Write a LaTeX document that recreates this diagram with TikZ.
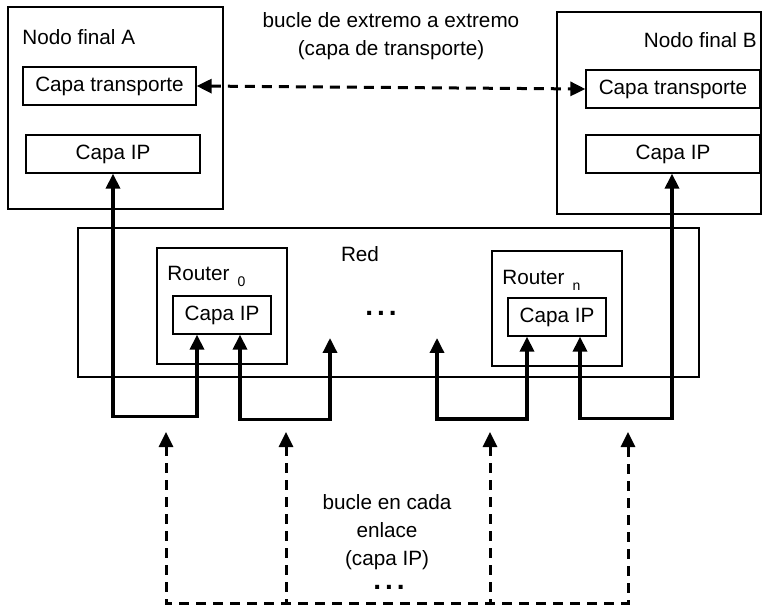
\documentclass[tikz,border=0pt]{standalone}
\usepackage{fontspec}
\setmainfont{Liberation Sans}
\usetikzlibrary{arrows.meta}
\begin{document}
\begin{tikzpicture}[x=0.5pt,y=-0.5pt,
  font=\fontsize{10.35}{14}\selectfont,
  box/.style={draw, line width=0.65pt, inner sep=0pt, rectangle},
  lbl/.style={inner sep=0pt},
  conn/.style={line width=1.7pt, {Triangle[width=7pt,length=7.5pt]}-{Triangle[width=7pt,length=7.5pt]}},
  dconn/.style={line width=1.5pt, dash pattern=on 5pt off 3.5pt},
  dotsty/.style={inner sep=0pt, font=\bfseries\fontsize{14}{14}\selectfont},
  ]
\useasboundingbox (0,0) rectangle (764,608);

% end nodes
\node[box, minimum width=107.5pt, minimum height=101pt] (A) at (115.5,108) {};
\node[lbl, anchor=base west] (Alab) at (22,44.5) {Nodo final A};
\node[box, minimum width=86.5pt, minimum height=19pt] (tA) at (109.5,86) {Capa transporte};
\node[box, minimum width=87pt, minimum height=19pt] (ipA) at (113,154) {Capa IP};

\node[box, minimum width=102pt, minimum height=101pt] (B) at (659,113) {};
\node[lbl, anchor=base east] (Blab) at (757,47.5) {Nodo final B};
\node[box, minimum width=87pt, minimum height=19pt] (tB) at (673,89) {Capa transporte};
\node[box, minimum width=87pt, minimum height=19pt] (ipB) at (673,154) {Capa IP};

% network
\node[box, minimum width=310.5pt, minimum height=74.5pt] (Red) at (388.5,302.5) {};
\node[lbl, anchor=base] (Redlab) at (360,262) {Red};
\node[box, minimum width=65pt, minimum height=58pt] (R0) at (222,306) {};
\node[lbl, anchor=base west] (R0lab) at (167,280.5) {Router\hspace{4pt}\raisebox{-2.8pt}{\fontsize{7}{8}\selectfont 0}};
\node[box, minimum width=49pt, minimum height=19pt] (ip0) at (222,315) {Capa IP};
\node[box, minimum width=65pt, minimum height=57.5pt] (Rn) at (557,308.5) {};
\node[lbl, anchor=base west] (Rnlab) at (502,284.5) {Router\hspace{4pt}\raisebox{-2.8pt}{\fontsize{7}{8}\selectfont n}};
\node[box, minimum width=49pt, minimum height=19pt] (ipn) at (557,317) {Capa IP};
\node[dotsty, anchor=base] (dotsR) at (381,316) {.\hspace{2pt}.\hspace{2pt}.};

% texts
\node[lbl, align=center] (ttop) at (391,36) {bucle de extremo a extremo\\(capa de transporte)};
\node[lbl, align=center] (tbot) at (387,532) {bucle en cada\\enlace\\(capa IP)};
\node[dotsty, anchor=base] (dotsB) at (389,589) {.\hspace{2pt}.\hspace{2pt}.};

% end-to-end dashed arrow
\draw[dconn, {Triangle[width=7pt,length=7.5pt]}-{Triangle[width=7pt,length=7.5pt]}] (tA.east) -- (tB.west);

% solid hop-by-hop connectors
\coordinate (c1) at (330,338);
\coordinate (c2) at (437,338);
\draw[conn] (ipA.south) -- ++(0,243) -| ([xshift=-12.5pt]ip0.south);
\draw[conn] ([xshift=9pt]ip0.south) -- ++(0,85) -| (c1);
\draw[conn] (c2) -- ++(0,81) -| ([xshift=-15pt]ipn.south);
\draw[conn] ([xshift=11.5pt]ipn.south) -- ++(0,82) -| ([xshift=-0.5pt]ipB.south);

% dashed per-link loops
\coordinate (d1) at (166,432);
\coordinate (d2) at (286,432);
\coordinate (d3) at (490,432);
\coordinate (d4) at (628,432);
\coordinate (b1) at (166,603);
\coordinate (b2) at (286,603);
\coordinate (b3) at (490,603);
\coordinate (b4) at (628,603);
\draw[dconn, {Triangle[width=7pt,length=7.5pt]}-{Triangle[width=7pt,length=7.5pt]}] (d1) -- (b1) -- (b4) -- (d4);
\draw[dconn, {Triangle[width=7pt,length=7.5pt]}-] (d2) -- (b2);
\draw[dconn, {Triangle[width=7pt,length=7.5pt]}-] (d3) -- (b3);
\end{tikzpicture}
\end{document}
